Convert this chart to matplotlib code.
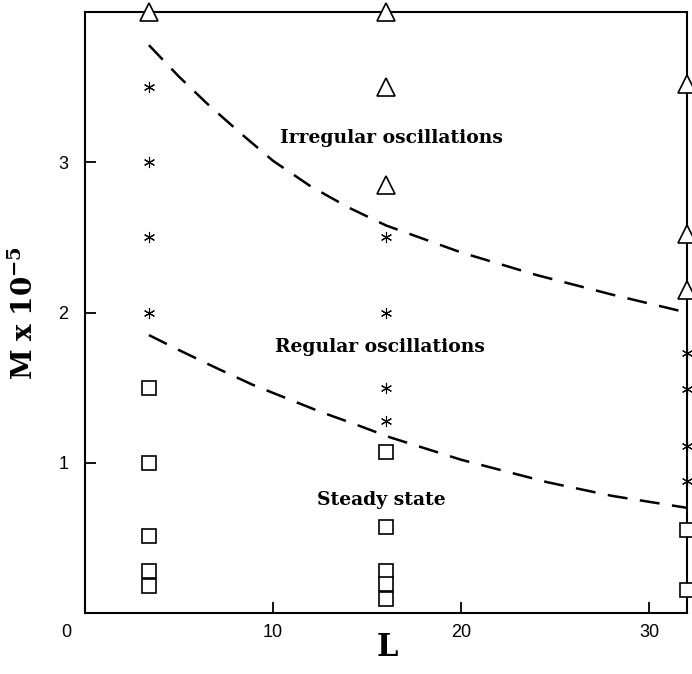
import matplotlib
matplotlib.use('Agg')
import matplotlib.pyplot as plt
import matplotlib.transforms as mtransforms

# data (M in units of 1e5)
tri_L = [3.4, 16.0, 16.0, 16.0, 32.0, 32.0, 32.0]
tri_M = [4.0, 4.0, 3.5, 2.85, 3.52, 2.52, 2.15]

star_L = [3.4, 3.4, 3.4, 3.4, 16.0, 16.0, 16.0, 16.0, 32.0, 32.0, 32.0, 32.0]
star_M = [3.5, 3.0, 2.5, 2.0, 2.5, 2.0, 1.5, 1.28, 1.73, 1.49, 1.11, 0.88]

sq_L = [3.4, 3.4, 3.4, 3.4, 3.4, 16.0, 16.0, 16.0, 16.0, 16.0, 32.0, 32.0]
sq_M = [1.5, 1.0, 0.51, 0.28, 0.18, 1.07, 0.57, 0.28, 0.19, 0.09, 0.55, 0.15]

# boundary curves
upper_L = [3.4, 5.0, 6.5, 8.4, 10.0, 12.0, 14.0, 16.0, 20.0, 24.0, 28.0, 32.0]
upper_M = [3.78, 3.57, 3.39, 3.18, 3.01, 2.84, 2.70, 2.58, 2.40, 2.25, 2.12, 2.0]
lower_L = [3.4, 5.0, 7.0, 8.9, 10.5, 12.5, 14.5, 16.2, 20.0, 24.6, 28.0, 32.0]
lower_M = [1.85, 1.75, 1.63, 1.52, 1.44, 1.34, 1.25, 1.17, 1.02, 0.87, 0.78, 0.70]

labels = ['Irregular oscillations', 'Regular oscillations', 'Steady state']
label_pos = [(16.3, 3.16), (15.7, 1.77), (15.75, 0.755)]

plt.rcParams['mathtext.fontset'] = 'dejavuserif'

fig = plt.figure(figsize=(6.92, 6.74), dpi=100)
ax = fig.add_axes([0.1228, 0.0905, 0.8700, 0.8915])

ax.plot(upper_L, upper_M, color='black', lw=1.8, dashes=(8, 5))
ax.plot(lower_L, lower_M, color='black', lw=1.8, dashes=(8, 5))

ax.plot(tri_L, tri_M, ls='none', marker='^', ms=13, mfc='white', mec='black', mew=1.2, clip_on=False, zorder=5)
ax.plot(sq_L, sq_M, ls='none', marker='s', ms=10, mfc='white', mec='black', mew=1.2, clip_on=False, zorder=5)
ax.plot(star_L, star_M, ls='none', marker=(6, 2, 0), ms=8, color='black', mew=0.8, clip_on=False, zorder=5)

for txt, (x, y) in zip(labels, label_pos):
    ax.text(x, y, txt, ha='center', va='center', fontsize=13.5, fontweight='bold', family='DejaVu Serif')

ax.set_xlim(0, 32)
ax.set_ylim(0, 4)
ax.set_xticks([10, 20, 30])
ax.set_yticks([1, 2, 3])
ax.tick_params(direction='in', length=8, width=1.3, labelsize=13, pad=8)
ax.tick_params(axis='y', pad=12)
for lab in ax.get_xticklabels() + ax.get_yticklabels():
    lab.set_family('Liberation Sans')
trans = mtransforms.blended_transform_factory(ax.transData, ax.transAxes)
ax.text(-1.0, -0.018, '0', transform=trans, ha='center', va='top', fontsize=13, family='Liberation Sans')

for s in ax.spines.values():
    s.set_linewidth(1.5)

fig.text(0.559, 0.0386, 'L', ha='center', va='center', fontsize=22, fontweight='bold', family='DejaVu Serif')
ax.set_ylabel(r'$\mathbf{M\ x\ 10^{-5}}$', fontsize=20, labelpad=14)

fig.savefig('out.png', dpi=100)
